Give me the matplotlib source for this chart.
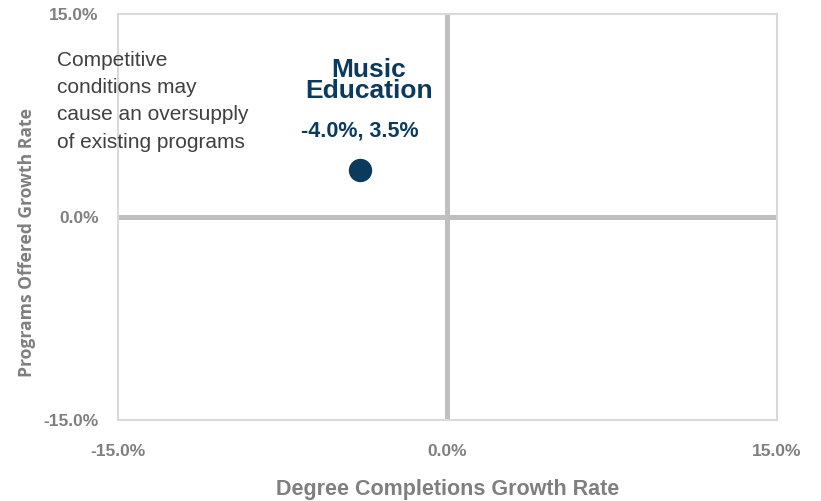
import matplotlib
matplotlib.use("Agg")
import matplotlib.pyplot as plt

# data
programs = ["Music\nEducation"]
completions_growth = [-4.0]
offered_growth = [3.5]
ticks = [-15.0, 0.0, 15.0]
tick_labels = ["-15.0%", "0.0%", "15.0%"]
note = "Competitive\nconditions may\ncause an oversupply\nof existing programs"

font = ["Liberation Sans", "DejaVu Sans"]
navy = "#0b3a5d"
grey = "#7f7f7f"

fig = plt.figure(figsize=(8.21, 5.01), dpi=100)
ax = fig.add_axes([0.1437, 0.1617, 0.8027, 0.8103])

ax.set_xlim(-15, 15)
ax.set_ylim(-15, 15)
ax.axvline(0, color="#bfbfbf", lw=3.6, zorder=1)
ax.axhline(0, color="#bfbfbf", lw=3.6, zorder=1)

ax.scatter(completions_growth, offered_growth, s=250, color=navy, zorder=3)

for name, x, y in zip(programs, completions_growth, offered_growth):
    ax.annotate(name, (x, y), xytext=(6.5, 64), textcoords="offset points",
                ha="center", va="center", fontsize=19, fontweight="bold",
                color=navy, family=font, linespacing=0.85)
    ax.annotate(f"{x:.1f}%, {y:.1f}%", (x, y), xytext=(0, 28),
                textcoords="offset points", ha="center", va="center",
                fontsize=15.5, fontweight="bold", color=navy, family=font)

fig.text(57 / 821, 1 - 51 / 501, note, ha="left", va="top", fontsize=15,
         color="#404040", family=font, linespacing=1.55)

ax.set_xticks(ticks)
ax.set_xticklabels(tick_labels)
ax.set_yticks(ticks)
ax.set_yticklabels(tick_labels)
ax.tick_params(axis="x", length=0, pad=17)
ax.tick_params(axis="y", length=0, pad=14)
for lab in ax.get_xticklabels() + ax.get_yticklabels():
    lab.set_family(font)
    lab.set_fontweight("bold")
    lab.set_fontsize(12.5)
    lab.set_color(grey)

for sp in ax.spines.values():
    sp.set_color("#d9d9d9")
    sp.set_linewidth(1.5)

ax.set_xlabel("Degree Completions Growth Rate", family=font, fontweight="bold",
              fontsize=15.5, color=grey)
ax.xaxis.set_label_coords(0.5, -0.145)
ax.set_ylabel("Programs Offered Growth Rate", family=["Open Sans", "DejaVu Sans"],
              fontweight="bold", fontsize=12.6, color=grey)
ax.yaxis.set_label_coords(-0.125, 0.436)

fig.savefig("out.png", dpi=100)
